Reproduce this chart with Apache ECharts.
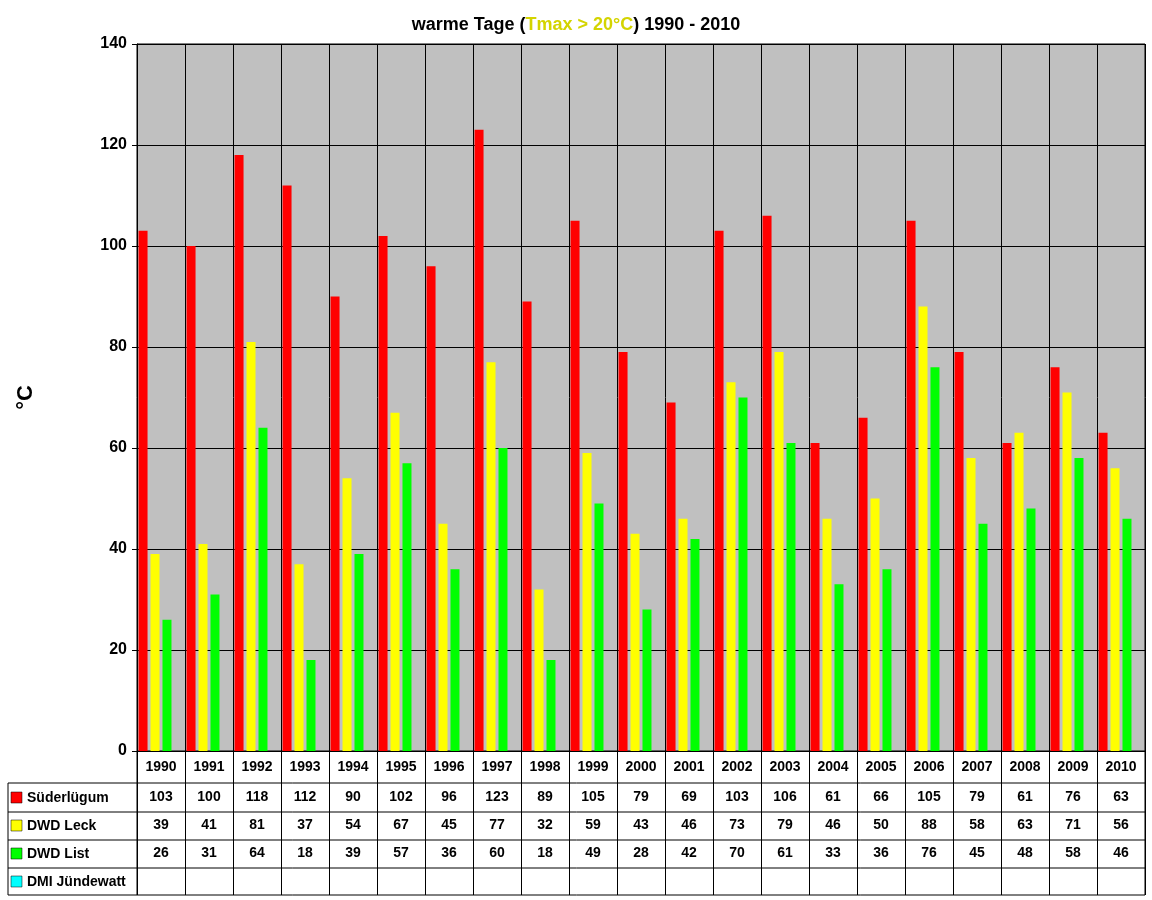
<!DOCTYPE html>
<html>
<head>
<meta charset="utf-8">
<script src="https://cdn.jsdelivr.net/npm/echarts@6/dist/echarts.min.js"></script>
<style>html,body{margin:0;padding:0;background:#fff}</style>
</head>
<body>
<div id="main" style="width:1152px;height:900px"></div>
<script>
const years = ["1990","1991","1992","1993","1994","1995","1996","1997","1998","1999","2000","2001","2002","2003","2004","2005","2006","2007","2008","2009","2010"];
const suederluegum = [103,100,118,112,90,102,96,123,89,105,79,69,103,106,61,66,105,79,61,76,63];
const dwdLeck = [39,41,81,37,54,67,45,77,32,59,43,46,73,79,46,50,88,58,63,71,56];
const dwdList = [26,31,64,18,39,57,36,60,18,49,28,42,70,61,33,36,76,45,48,58,46];
const dmiJuendewatt = [];
const seriesNames = ["Süderlügum", "DWD Leck", "DWD List", "DMI Jündewatt"];
const seriesColors = ["#ff0000", "#ffff00", "#00ff00", "#00ffff"];
const seriesData = [suederluegum, dwdLeck, dwdList, dmiJuendewatt];

const font = "Liberation Sans, Arial, sans-serif";
const plotBottom = 751;
const rowLines = [783, 812, 840, 868, 895];
const rowCenters = [798, 826, 854, 882];

const myChart = echarts.init(document.getElementById("main"));

const tableAxes = seriesData.map((d, i) => ({
  type: "category",
  data: years.map((y, j) => (d[j] !== undefined ? String(d[j]) : "")),
  position: "bottom",
  offset: rowCenters[i] - plotBottom - 8,
  axisLine: { show: false },
  axisTick: { show: false },
  axisLabel: { margin: 0, fontFamily: font, fontWeight: "bold", fontSize: 14, color: "#000", interval: 0 },
}));

const graphic = [];
rowLines.forEach((y) => {
  graphic.push({ type: "line", shape: { x1: y === 783 ? 8 : 8, y1: y, x2: 1145, y2: y }, style: { stroke: "#000", lineWidth: 1 } });
});
graphic.push({ type: "line", shape: { x1: 8, y1: 783, x2: 8, y2: 895 }, style: { stroke: "#000" } });
graphic.push({ type: "line", shape: { x1: 137, y1: 751, x2: 137, y2: 895 }, style: { stroke: "#000" } });
graphic.push({ type: "line", shape: { x1: 1145, y1: 751, x2: 1145, y2: 895 }, style: { stroke: "#000" } });
seriesNames.forEach((n, i) => {
  graphic.push({ type: "rect", shape: { x: 11, y: rowCenters[i] - 6, width: 11, height: 11 }, style: { fill: seriesColors[i], stroke: "#000", lineWidth: 0.5 } });
  graphic.push({ type: "text", x: 27, y: rowCenters[i], style: { text: n, font: "bold 14px " + font, fill: "#000", verticalAlign: "middle" } });
});

const option = {
  animation: false,
  title: {
    text: "{b|warme Tage (}{y|Tmax > 20°C}{b|) 1990 - 2010}",
    left: "center",
    top: 11,
    textStyle: {
      rich: {
        b: { fontFamily: font, fontWeight: "bold", fontSize: 18, color: "#000" },
        y: { fontFamily: font, fontWeight: "bold", fontSize: 18, color: "#d4d400" },
      },
    },
  },
  grid: { left: 137, right: 7, top: 44, bottom: 149, show: true, backgroundColor: "#c0c0c0", borderColor: "#000", borderWidth: 1 },
  xAxis: [
    {
      type: "category",
      data: years,
      axisLine: { lineStyle: { color: "#000" } },
      axisTick: { show: true, length: 144, lineStyle: { color: "#000" } },
      axisLabel: { margin: 9, fontFamily: font, fontWeight: "bold", fontSize: 14, color: "#000", interval: 0 },
      splitLine: { show: true, lineStyle: { color: "#000" } },
    },
    ...tableAxes,
  ],
  yAxis: {
    type: "value",
    min: 0,
    max: 140,
    interval: 20,
    name: "°C",
    nameLocation: "middle",
    nameGap: 100,
    nameTextStyle: { fontFamily: font, fontWeight: "bold", fontSize: 22, color: "#000" },
    axisLine: { show: true, lineStyle: { color: "#000" } },
    axisTick: { show: true, length: 5, lineStyle: { color: "#000" } },
    axisLabel: { fontFamily: font, fontWeight: "bold", fontSize: 16, color: "#000", margin: 10 },
    splitLine: { lineStyle: { color: "#000" } },
  },
  graphic,
  series: seriesData.map((d, i) => ({
    name: seriesNames[i],
    type: "bar",
    data: d,
    barWidth: 9,
    barGap: "33%",
    itemStyle: { color: seriesColors[i] },
  })),
};

myChart.setOption(option);
</script>
</body>
</html>
